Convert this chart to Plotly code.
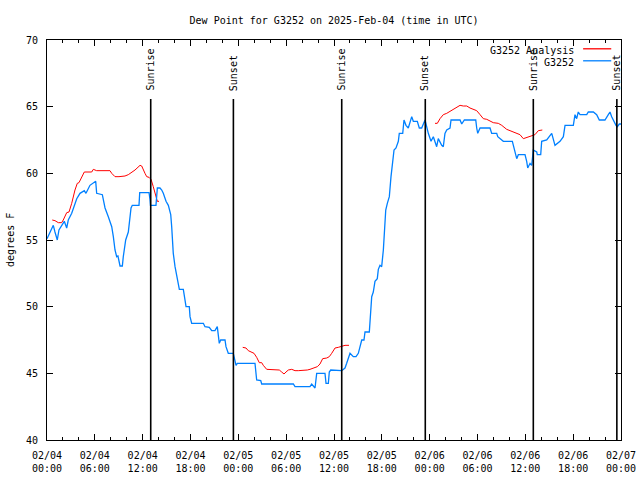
import pandas as pd
import plotly.graph_objects as go

# ---------------- data ----------------
start_time = "2025-02-04 00:00"

# observed dew point (hours since start, degrees F)
obs_hours = [0.0, 0.79, 1.0, 1.29, 1.5, 1.84, 2.17, 2.47, 2.67, 3.1, 3.73, 4.14, 4.68, 4.89, 5.39,
             6.11, 6.23, 6.94, 7.28, 7.69, 8.12, 8.32, 8.53, 8.74, 8.9, 9.16, 9.45, 9.57, 9.87,
             10.2, 10.54, 10.7, 11.54, 11.63, 12.8, 12.92, 12.98, 13.67, 13.84, 14.17, 14.39,
             14.59, 14.93, 15.22, 15.52, 15.64, 15.77, 15.84, 16.06, 16.27, 16.47, 16.6, 17.1,
             17.31, 17.44, 17.85, 17.94, 18.15, 19.61, 19.82, 20.36, 20.66, 21.07, 21.36, 21.49,
             21.61, 21.79, 22.33, 22.45, 22.74, 23.37, 23.71, 23.87, 26.09, 26.3, 26.81, 26.93,
             30.9, 31.11, 32.99, 33.2, 33.62, 33.83, 34.87, 35.0, 35.29, 35.41, 35.59, 36.97,
             37.38, 37.59, 38.01, 38.42, 38.76, 39.05, 39.35, 39.48, 39.76, 39.89, 40.43, 40.6,
             40.73, 40.93, 41.14, 41.43, 41.56, 41.77, 41.98, 42.19, 42.31, 42.49, 42.69, 42.94,
             43.15, 43.36, 43.53, 43.78, 44.07, 44.19, 44.62, 44.78, 45.03, 45.32, 45.75, 45.95,
             46.45, 46.7, 47.0, 47.42, 47.63, 47.83, 48.17, 48.46, 48.88, 49.08, 49.51, 49.71,
             49.92, 50.14, 50.55, 50.68, 51.81, 52.02, 52.35, 53.78, 53.9, 54.03, 54.32, 55.57,
             55.78, 56.41, 56.54, 57.24, 58.37, 58.49, 58.92, 59.12, 59.96, 60.17, 60.3, 60.59,
             60.8, 61.0, 61.43, 61.5, 61.93, 62.05, 62.68, 63.31, 63.72, 64.35, 64.77, 64.98,
             66.02, 66.23, 66.44, 66.64, 66.86, 67.7, 67.9, 68.53, 68.95, 69.28, 69.99, 70.41,
             70.62, 70.83, 71.03, 71.37, 71.54, 71.79, 72.0]
obs_values = [55.1, 56.1, 55.6, 55.0, 55.75, 56.1, 56.4, 55.9, 56.5, 57.0, 58.1, 58.5, 58.7, 58.5, 59.1,
              59.4, 58.5, 58.4, 57.4, 56.75, 56.0, 55.25, 54.25, 53.75, 53.8, 53.05, 53.05, 53.75, 55.0,
              55.6, 57.4, 57.6, 57.6, 58.55, 58.55, 58.05, 57.6, 57.6, 58.9, 58.9, 58.75,
              58.5, 57.9, 57.6, 56.9, 56.0, 54.9, 54.0, 53.0, 52.25, 51.6, 51.3, 51.3,
              50.4, 50.0, 50.0, 49.25, 48.75, 48.75, 48.5, 48.45, 48.2, 48.2, 48.5, 48.0,
              47.25, 47.5, 47.5, 47.0, 46.5, 46.5, 45.6, 45.75, 45.75, 44.5, 44.45, 44.2,
              44.2, 44.0, 44.0, 44.2, 43.9, 45.0, 45.0, 44.25, 44.25, 45.1, 45.25, 45.2,
              45.4, 45.75, 46.5, 46.25, 46.25, 46.5, 47.1, 47.5, 47.5, 48.1, 48.1, 49.9,
              50.75, 51.1, 51.9, 52.1, 52.8, 53.1, 53.0, 54.25, 55.5, 57.25, 57.75, 58.25,
              59.75, 61.0, 61.75, 61.9, 62.4, 63.0, 63.0, 64.0, 63.6, 63.4, 64.25, 63.9,
              63.9, 63.4, 63.4, 64.0, 63.4, 63.0, 62.4, 62.75, 62.0, 62.6, 62.1, 62.0,
              63.0, 63.25, 63.4, 64.0, 64.0, 63.7, 64.0, 64.0, 63.4, 63.0, 63.4, 63.4,
              63.0, 63.0, 62.75, 62.4, 62.4, 62.1, 61.1, 61.4, 61.4, 60.9, 60.4, 60.75,
              60.6, 61.75, 61.6, 61.4, 61.4, 62.4, 62.5, 63.0, 62.1, 62.4, 62.75, 63.6,
              63.6, 64.4, 64.1, 64.6, 64.4, 64.4, 64.6, 64.6, 64.4, 64.0, 64.0, 64.4,
              64.6, 64.25, 64.0, 63.6, 63.5, 63.7, 63.7]

# analysis dew point (None separates the gaps)
anl_hours = [0.66, 1.0, 1.42, 1.84, 2.04, 2.47, 2.76, 3.1, 3.51, 3.8, 4.01, 4.35, 4.68, 5.61, 5.81,
             6.23, 7.9, 8.12, 8.53, 9.03, 9.78, 10.2, 10.62, 11.04, 11.67, 11.88, 12.29, 12.51,
             12.8, 13.05, 13.33, 13.67, 13.84, 14.05, None,
             24.55, 24.96, 25.25, 25.68, 25.97, 26.3, 26.63, 26.93, 27.13, 27.56, 28.81, 29.14,
             29.44, 29.73, 29.98, 30.27, 30.7, 31.11, 31.52, 32.36, 32.65, 32.99, 33.4, 33.91,
             34.24, 34.58, 35.09, 35.41, 35.71, 36.13, 36.54, 36.97, 37.38, 37.88, None,
             48.67, 48.96, 49.3, 49.71, 50.14, 50.43, 50.97, 51.39, 51.81, 52.22, 52.65, 53.06,
             53.48, 53.9, 54.32, 54.73, 55.16, 55.57, 55.98, 56.61, 57.04, 57.66, 58.08, 58.71,
             59.33, 59.75, 60.17, 60.71, 61.21, 61.63, 61.93, 62.13]
anl_values = [56.5, 56.45, 56.3, 56.3, 56.5, 57.05, 57.1, 57.75, 58.75, 59.25, 59.3, 59.75, 60.1, 60.1, 60.3,
              60.2, 60.2, 60.0, 59.75, 59.75, 59.8, 59.9, 60.05, 60.25, 60.6, 60.55, 60.0, 59.75,
              59.7, 59.55, 59.0, 58.1, 57.9, 57.9, None,
              46.95, 46.9, 46.7, 46.55, 46.5, 46.2, 45.8, 45.8, 45.6, 45.3, 45.3, 45.25,
              45.1, 44.95, 45.1, 45.25, 45.3, 45.2, 45.2, 45.2, 45.25, 45.3, 45.4, 45.5,
              45.7, 46.1, 46.15, 46.25, 46.5, 46.9, 46.95, 47.05, 47.1, 47.1, None,
              63.75, 63.75, 64.1, 64.4, 64.5, 64.6, 64.75, 64.9, 65.1, 65.05, 65.05, 64.9,
              64.8, 64.7, 64.4, 64.1, 64.05, 63.9, 63.8, 63.75, 63.6, 63.3, 63.2, 63.1,
              62.9, 62.6, 62.7, 62.8, 62.9, 63.2, 63.25, 63.25]

sun_hours = [13.01, 23.38, 36.97, 47.45, 61.0, 71.48]
sun_labels = ["Sunrise", "Sunset", "Sunrise", "Sunset", "Sunrise", "Sunset"]

x_tick_hours = [0, 6, 12, 18, 24, 30, 36, 42, 48, 54, 60, 66, 72]
x_tick_labels = ["02/04<br>00:00", "02/04<br>06:00", "02/04<br>12:00", "02/04<br>18:00",
                 "02/05<br>00:00", "02/05<br>06:00", "02/05<br>12:00", "02/05<br>18:00",
                 "02/06<br>00:00", "02/06<br>06:00", "02/06<br>12:00", "02/06<br>18:00",
                 "02/07<br>00:00"]
y_ticks = [40, 45, 50, 55, 60, 65, 70]

title_text = "Dew Point for G3252 on 2025-Feb-04 (time in UTC)"
y_title = "degrees F"
series_names = ["G3252 Analysis", "G3252"]
series_colors = ["#ff0000", "#0080ff"]

# ---------------- helpers ----------------
t0 = pd.Timestamp(start_time)


def to_time(hours):
    return [None if h is None else (t0 + pd.Timedelta(hours=h)).strftime("%Y-%m-%d %H:%M:%S")
            for h in hours]


FONT = "DejaVu Sans Mono"

fig = go.Figure()
fig.add_trace(go.Scatter(x=to_time(anl_hours), y=anl_values, mode="lines",
                         name=series_names[0], line=dict(color=series_colors[0], width=1),
                         connectgaps=False, showlegend=False))
fig.add_trace(go.Scatter(x=to_time(obs_hours), y=obs_values, mode="lines",
                         name=series_names[1], line=dict(color=series_colors[1], width=1.3),
                         showlegend=False))

shapes = []
annotations = []
for t, lab in zip(to_time(sun_hours), sun_labels):
    shapes.append(dict(type="line", xref="x", yref="paper", x0=t, x1=t, y0=0, y1=0.8525,
                       line=dict(color="black", width=1.6)))
    annotations.append(dict(x=t, y=0.868, xref="x", yref="paper", text=lab, showarrow=False,
                            textangle=-90, xanchor="center", yanchor="bottom",
                            font=dict(family=FONT, size=10, color="black")))

# legend drawn gnuplot-style (text then sample line)
leg_y = [0.975, 0.945]
for name, col, yy in zip(series_names, series_colors, leg_y):
    annotations.append(dict(x=0.9216, y=yy, xref="paper", yref="paper", text=name,
                            showarrow=False, xanchor="right", yanchor="middle",
                            font=dict(family=FONT, size=10, color="black")))
    shapes.append(dict(type="line", xref="paper", yref="paper", x0=0.934, x1=0.983,
                       y0=yy + 0.003, y1=yy + 0.003, line=dict(color=col, width=1.3)))

annotations.append(dict(x=-0.0645, y=0.5, xref="paper", yref="paper", text=y_title,
                        showarrow=False, textangle=-90, xanchor="center", yanchor="middle",
                        font=dict(family=FONT, size=10, color="black")))

fig.update_layout(
    width=640, height=480,
    margin=dict(l=47, r=19, t=40, b=40, autoexpand=False),
    paper_bgcolor="white", plot_bgcolor="white",
    font=dict(family=FONT, size=10, color="black"),
    title=dict(text=title_text, x=0.522, xref="container", y=1 - 20 / 480, yref="container",
               xanchor="center", yanchor="middle", automargin=False,
               font=dict(family=FONT, size=10, color="black")),
    shapes=shapes, annotations=annotations,
    showlegend=False,
)
fig.update_xaxes(
    type="date", range=to_time([0, 72]), automargin=False,
    tickvals=to_time(x_tick_hours), ticktext=x_tick_labels,
    ticks="inside", ticklen=6, tickcolor="black", tickwidth=1,
    minor=dict(ticks="inside", ticklen=3, dtick=2 * 3600 * 1000, tickcolor="black"),
    showline=True, linecolor="black", linewidth=1, mirror="ticks",
    showgrid=False, zeroline=False, ticklabelstandoff=6,
    tickfont=dict(family=FONT, size=10, color="black"),
)
fig.update_yaxes(
    range=[40, 70], tickvals=y_ticks, automargin=False,
    ticks="inside", ticklen=6, tickcolor="black", tickwidth=1,
    showline=True, linecolor="black", linewidth=1, mirror="ticks",
    showgrid=False, zeroline=False, ticklabelstandoff=6,
    tickfont=dict(family=FONT, size=10, color="black"),
)

fig.write_html("out.html", config={"displayModeBar": False},
               post_script="document.body.style.margin='0';document.body.style.overflow='hidden';")
